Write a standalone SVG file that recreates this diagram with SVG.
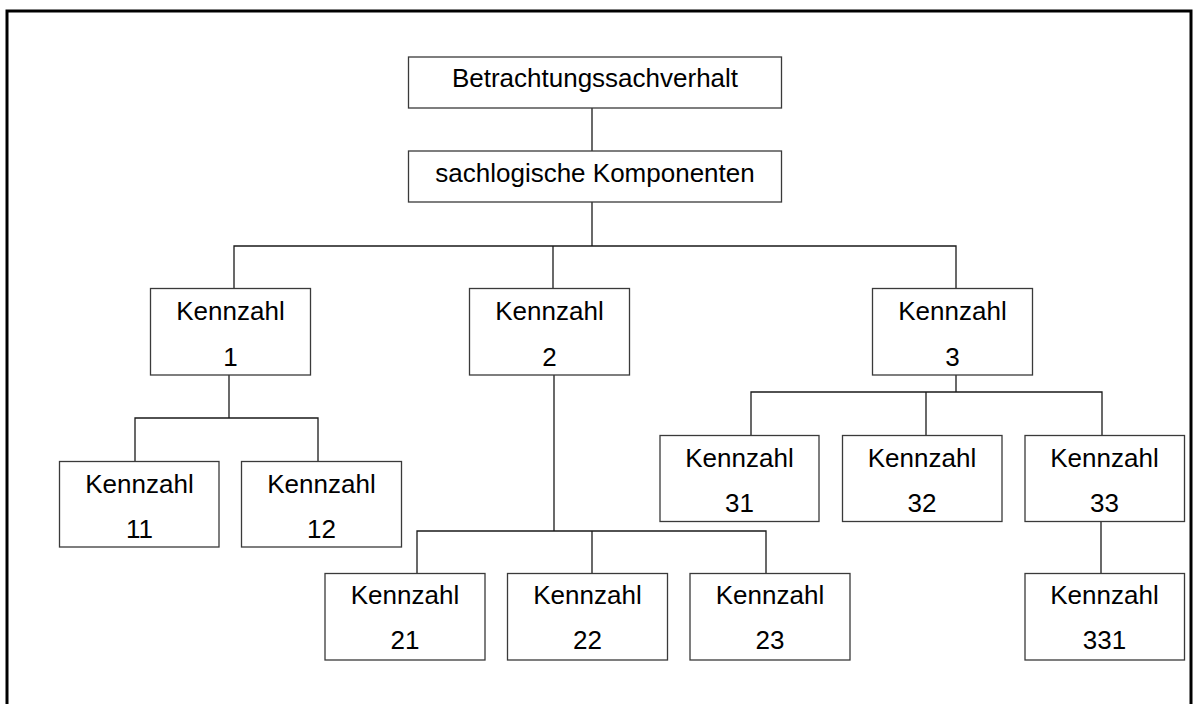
<svg xmlns="http://www.w3.org/2000/svg" width="1197" height="704" viewBox="0 0 1197 704">
  <style>
    .box { fill: #ffffff; stroke: #3a3a3a; stroke-width: 1.3; }
    .lbl { font-family: "Liberation Sans", Arial, sans-serif; font-size: 26px; fill: #000000; text-anchor: middle; }
    .conn { fill: none; stroke: #1a1a1a; stroke-width: 1.3; }
    .frame { fill: none; stroke: #000000; stroke-width: 3; }
  </style>

  <rect width="1197" height="704" fill="#ffffff"/>
  <!-- outer frame (open at the bottom edge of the page) -->
  <rect class="frame" x="7" y="11" width="1184" height="710"/>

  <!-- connectors -->
  <g id="connectors">
    <path class="conn" d="M592,108 V151"/>
    <path class="conn" d="M592,202 V246"/>
    <path class="conn" d="M234,288 V246 H956 V288"/>
    <path class="conn" d="M553,246 V288" stroke-width="2"/>
    <!-- Kennzahl 1 children -->
    <path class="conn" d="M229,375 V418"/>
    <path class="conn" d="M135,461 V418 H318 V461"/>
    <!-- Kennzahl 2 children -->
    <path class="conn" d="M554,375 V531" stroke-width="2"/>
    <path class="conn" d="M417,573 V531 H766 V573"/>
    <path class="conn" d="M592,531 V573"/>
    <!-- Kennzahl 3 children -->
    <path class="conn" d="M956,375 V392"/>
    <path class="conn" d="M751,435 V392 H1102 V435"/>
    <path class="conn" d="M926,392 V435"/>
    <!-- Kennzahl 33 child -->
    <path class="conn" d="M1101,521 V573" stroke-width="2"/>
  </g>

  <g id="betrachtungssachverhalt">
    <rect class="box" x="408.5" y="57" width="373" height="51"/>
    <text class="lbl" x="595" y="87">Betrachtungssachverhalt</text>
  </g>
  <g id="sachlogische-komponenten">
    <rect class="box" x="408.5" y="151" width="373" height="51"/>
    <text class="lbl" x="595" y="182">sachlogische Komponenten</text>
  </g>

  <g id="kennzahl-1">
    <rect class="box" x="150.5" y="288.5" width="160" height="86.5"/>
    <text class="lbl" x="230.5" y="320">Kennzahl</text>
    <text class="lbl" x="230.5" y="366">1</text>
  </g>
  <g id="kennzahl-2">
    <rect class="box" x="469.5" y="288.5" width="160" height="86.5"/>
    <text class="lbl" x="549.5" y="320">Kennzahl</text>
    <text class="lbl" x="549.5" y="366">2</text>
  </g>
  <g id="kennzahl-3">
    <rect class="box" x="872.5" y="288.5" width="160" height="86.5"/>
    <text class="lbl" x="952.5" y="320">Kennzahl</text>
    <text class="lbl" x="952.5" y="366">3</text>
  </g>

  <g id="kennzahl-11">
    <rect class="box" x="59.5" y="461.5" width="159.5" height="85.5"/>
    <text class="lbl" x="139.5" y="493">Kennzahl</text>
    <text class="lbl" x="139.5" y="538">11</text>
  </g>
  <g id="kennzahl-12">
    <rect class="box" x="241.5" y="461.5" width="160" height="85.5"/>
    <text class="lbl" x="321.5" y="493">Kennzahl</text>
    <text class="lbl" x="321.5" y="538">12</text>
  </g>

  <g id="kennzahl-21">
    <rect class="box" x="325" y="573.5" width="160" height="86.5"/>
    <text class="lbl" x="405" y="604">Kennzahl</text>
    <text class="lbl" x="405" y="649">21</text>
  </g>
  <g id="kennzahl-22">
    <rect class="box" x="507.5" y="573.5" width="160" height="86.5"/>
    <text class="lbl" x="587.5" y="604">Kennzahl</text>
    <text class="lbl" x="587.5" y="649">22</text>
  </g>
  <g id="kennzahl-23">
    <rect class="box" x="690" y="573.5" width="160" height="86.5"/>
    <text class="lbl" x="770" y="604">Kennzahl</text>
    <text class="lbl" x="770" y="649">23</text>
  </g>

  <g id="kennzahl-31">
    <rect class="box" x="660" y="435.5" width="159" height="86"/>
    <text class="lbl" x="739.5" y="467">Kennzahl</text>
    <text class="lbl" x="739.5" y="512">31</text>
  </g>
  <g id="kennzahl-32">
    <rect class="box" x="842.5" y="435.5" width="159.5" height="86"/>
    <text class="lbl" x="922" y="467">Kennzahl</text>
    <text class="lbl" x="922" y="512">32</text>
  </g>
  <g id="kennzahl-33">
    <rect class="box" x="1025" y="435.5" width="159.5" height="86"/>
    <text class="lbl" x="1104.5" y="467">Kennzahl</text>
    <text class="lbl" x="1104.5" y="512">33</text>
  </g>

  <g id="kennzahl-331">
    <rect class="box" x="1025" y="573.5" width="159.5" height="86.5"/>
    <text class="lbl" x="1104.5" y="604">Kennzahl</text>
    <text class="lbl" x="1104.5" y="649">331</text>
  </g>
</svg>
